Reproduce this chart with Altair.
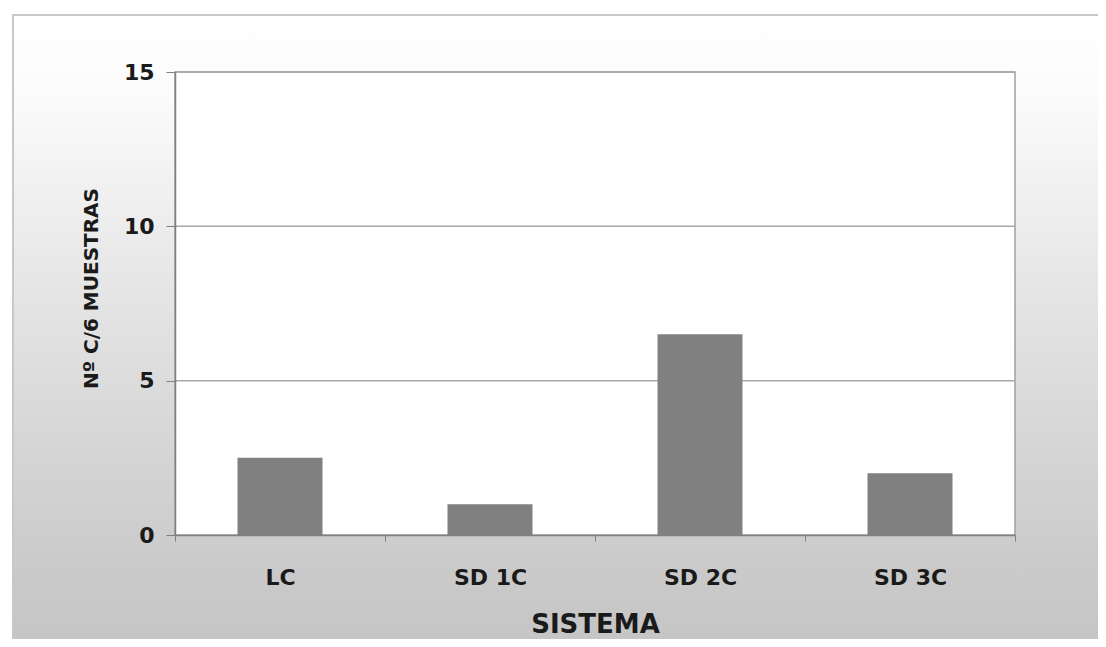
import altair as alt
import pandas as pd

categories = ["LC", "SD 1C", "SD 2C", "SD 3C"]
values = [2.5, 1.0, 6.5, 2.0]
grid_values = [5, 10, 15]
y_ticks = [0, 5, 10, 15]

W, H = 840, 463
FONT = "DejaVu Sans"

df = pd.DataFrame({"sistema": categories, "n": values})
grid_df = pd.DataFrame({"n": grid_values})
one = pd.DataFrame({"a": [0]})

gradient = {
    "gradient": "linear",
    "x1": 0, "y1": 0, "x2": 0, "y2": 1,
    "stops": [
        {"offset": 0.0, "color": "#ffffff"},
        {"offset": 0.12, "color": "#fbfbfb"},
        {"offset": 0.45, "color": "#e2e2e2"},
        {"offset": 0.8, "color": "#cbcbcb"},
        {"offset": 1.0, "color": "#c2c2c2"},
    ],
}

y_axis = alt.Axis(
    title="Nº C/6 MUESTRAS",
    values=y_ticks,
    grid=False,
    tickSize=9,
    tickColor="#808080",
    domainColor="#808080",
    domainWidth=1.5,
    labelFont=FONT,
    labelFontWeight="bold",
    labelFontSize=22,
    labelColor="#1a1a1a",
    labelPadding=12,
    titleFont=FONT,
    titleFontWeight="bold",
    titleFontSize=20,
    titleColor="#1a1a1a",
    titleX=-84,
    titleY=216,
    titleAngle=270,
    titleAlign="center",
    titleBaseline="middle",
    zindex=1,
)
y_scale = alt.Scale(domain=[0, 15])

bg = alt.Chart(one).mark_rect(fill=gradient, stroke="#c8c8c8", strokeWidth=2).encode(
    x=alt.value(-162), x2=alt.value(960), y=alt.value(-57), y2=alt.value(620)
)

plot_bg = alt.Chart(one).mark_rect(fill="white", stroke="#a0a0a0", strokeWidth=1.5).encode(
    x=alt.value(0), x2=alt.value(W), y=alt.value(0), y2=alt.value(H)
)

grid = alt.Chart(grid_df).mark_rule(color="#a8a8a8", strokeWidth=1.5).encode(
    y=alt.Y("n:Q", scale=y_scale, axis=y_axis)
)

bars = alt.Chart(df).mark_bar(color="#808080", width=85).encode(
    x=alt.X(
        "sistema:N",
        sort=categories,
        scale=alt.Scale(paddingInner=0, paddingOuter=0),
        axis=alt.Axis(
            title="SISTEMA",
            labelAngle=0,
            tickBand="extent",
            tickSize=6,
            tickColor="#808080",
            domainColor="#808080",
            domainWidth=1.5,
            labelFont=FONT,
            labelFontWeight="bold",
            labelFontSize=22,
            labelColor="#1a1a1a",
            labelPadding=26,
            titleFont=FONT,
            titleFontWeight="bold",
            titleFontSize=26,
            titleColor="#1a1a1a",
            titleY=97,
            titleBaseline="alphabetic",
            zindex=1,
        ),
    ),
    y=alt.Y("n:Q", scale=y_scale, axis=y_axis),
)

chart = (
    alt.layer(bg, plot_bg, grid, bars)
    .properties(
        width=W,
        height=H,
        autosize=alt.AutoSizeParams(type="none"),
        padding={"left": 167, "top": 64, "right": 83, "bottom": 104},
    )
    .configure_view(stroke=None)
)

chart.save("out.html", embed_options={"renderer": "svg", "actions": False})
